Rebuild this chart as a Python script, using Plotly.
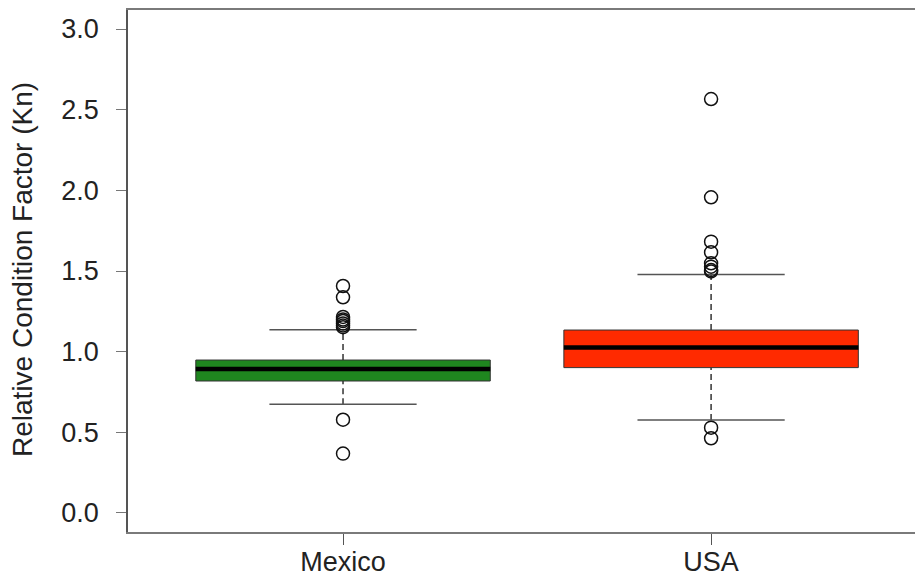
import plotly.graph_objects as go

# Box-plot summary of relative condition factor (Kn) by country
countries = ["Mexico", "USA"]
positions = [1, 2]
q1 = [0.818, 0.901]
median = [0.893, 1.025]
q3 = [0.948, 1.134]
whisker_low = [0.674, 0.576]
whisker_high = [1.136, 1.479]
outliers = [
    [1.407, 1.337, 1.215, 1.200, 1.190, 1.175, 1.162, 1.152, 0.578, 0.368],
    [2.566, 1.957, 1.682, 1.616, 1.548, 1.527, 1.506, 1.497, 0.529, 0.463],
]
fill_colors = ["#1f861f", "#ff2a00"]

y_tick_values = [0.0, 0.5, 1.0, 1.5, 2.0, 2.5, 3.0]
y_tick_labels = ["0.0", "0.5", "1.0", "1.5", "2.0", "2.5", "3.0"]

BOX_HALF = 0.4
CAP_HALF = 0.2
FONT = "Liberation Sans, Arial, sans-serif"
TEXT_COLOR = "#222222"
FRAME_COLOR = "#7a7a7a"

fig = go.Figure()

for i, x in enumerate(positions):
    # dashed whiskers from the box edges to the caps
    fig.add_trace(go.Scatter(
        x=[x, x, None, x, x],
        y=[whisker_low[i], q1[i], None, q3[i], whisker_high[i]],
        mode="lines",
        line=dict(color="#333333", width=1.5, dash="6px,4px"),
        hoverinfo="skip", showlegend=False,
    ))
    # whisker caps
    fig.add_trace(go.Scatter(
        x=[x - CAP_HALF, x + CAP_HALF, None, x - CAP_HALF, x + CAP_HALF],
        y=[whisker_low[i], whisker_low[i], None, whisker_high[i], whisker_high[i]],
        mode="lines",
        line=dict(color="#555555", width=1.5),
        hoverinfo="skip", showlegend=False,
    ))
    # interquartile box
    fig.add_trace(go.Scatter(
        x=[x - BOX_HALF, x + BOX_HALF, x + BOX_HALF, x - BOX_HALF, x - BOX_HALF],
        y=[q1[i], q1[i], q3[i], q3[i], q1[i]],
        mode="lines", fill="toself", fillcolor=fill_colors[i],
        line=dict(color="#333333", width=1),
        hoverinfo="skip", showlegend=False,
    ))
    # median bar
    fig.add_trace(go.Scatter(
        x=[x - BOX_HALF, x + BOX_HALF],
        y=[median[i], median[i]],
        mode="lines",
        line=dict(color="#000000", width=4.5),
        hoverinfo="skip", showlegend=False,
    ))
    # outlying observations
    fig.add_trace(go.Scatter(
        x=[x] * len(outliers[i]),
        y=outliers[i],
        mode="markers",
        marker=dict(symbol="circle-open", size=13, color="#111111",
                    line=dict(width=1.5, color="#111111")),
        hoverinfo="skip", showlegend=False, cliponaxis=False,
    ))

fig.update_layout(
    width=915, height=577,
    margin=dict(l=128, r=0, t=10, b=45, autoexpand=False),
    paper_bgcolor="white", plot_bgcolor="white",
    font=dict(family=FONT, color=TEXT_COLOR),
    xaxis=dict(
        range=[0.4158, 2.554], automargin=False,
        tickmode="array", tickvals=positions, ticktext=countries,
        ticks="outside", ticklen=11, tickwidth=1, tickcolor="#555555",
        tickfont=dict(size=27, family=FONT, color=TEXT_COLOR),
        ticklabelstandoff=-6,
        showline=True, mirror=True, linecolor=FRAME_COLOR, linewidth=1.5,
        showgrid=False, zeroline=False,
    ),
    yaxis=dict(
        range=[-0.118, 3.118], automargin=False,
        tickmode="array", tickvals=y_tick_values, ticktext=y_tick_labels,
        ticks="outside", ticklen=10, tickwidth=1, tickcolor="#777777",
        tickfont=dict(size=27, family=FONT, color=TEXT_COLOR),
        ticklabelstandoff=12,
        showline=True, mirror=False, linecolor="#555555", linewidth=1.5,
        showgrid=False, zeroline=False,
    ),
    annotations=[dict(
        text="Relative Condition Factor (Kn)",
        xref="paper", yref="paper",
        x=-0.1334, y=0.502, xanchor="center", yanchor="middle",
        textangle=-90, showarrow=False,
        font=dict(size=28, family=FONT, color=TEXT_COLOR),
    )],
)

fig.write_html("out.html")
